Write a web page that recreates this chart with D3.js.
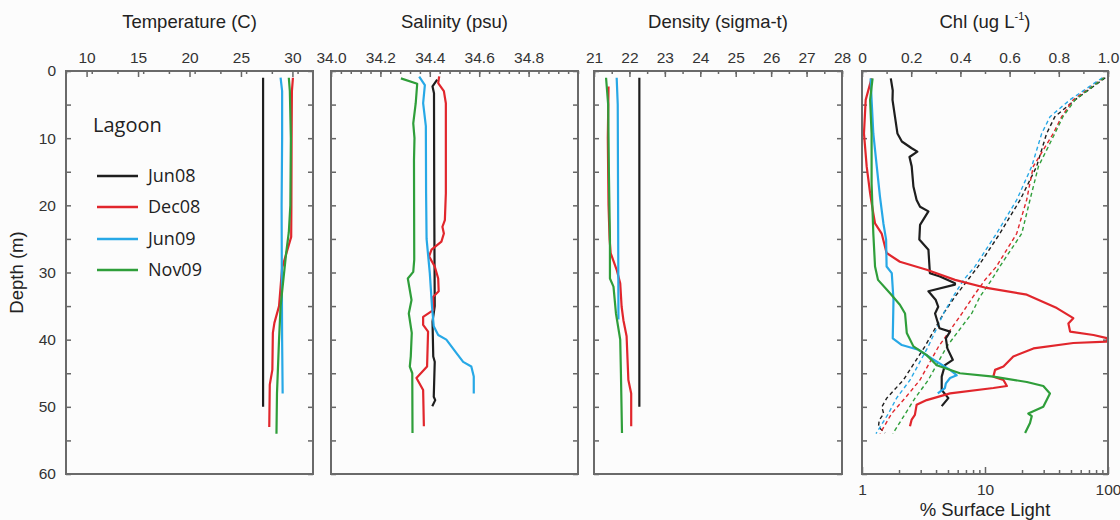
<!DOCTYPE html>
<html lang="en">
<head>
<meta charset="UTF-8">
<title>Lagoon profiles</title>
<script src="https://d3js.org/d3.v7.min.js"></script>
<style>
  body { margin: 0; background: #fcfcfc; }
  svg { display: block; }
  .tick text { font-family: "Liberation Sans", Arial, sans-serif; font-size: 15.5px; fill: #333; }
  .tick line { stroke: #666; stroke-width: 1.5; }
  .ptitle { font-family: "Liberation Sans", Arial, sans-serif; font-size: 18.5px; fill: #222; text-anchor: middle; }
  .legend text { font-family: "Open Sans", sans-serif; fill: #222; }
</style>
</head>
<body>
<svg id="chart" width="1120" height="520"></svg>
<script>
// ---- data: [depth (m), value] ----
const seasons = ["Jun08", "Dec08", "Jun09", "Nov09"];
const seasonColors = ["#1e1e1e", "#e1262c", "#27a8e6", "#2f9e3a"];

const tempJun08 = [[1,27.15],[50,27.15]];
const tempDec08 = [[1,30.05],[3,29.95],[10,29.92],[20,29.9],[24.7,29.88],[29.3,29.0],[35,28.7],[37.5,28.25],[39,28.1],[44.5,28.05],[46.7,27.8],[53,27.75]];
const tempJun09 = [[1,28.85],[3,29.0],[10,29.0],[20,28.95],[30,28.97],[40,29.0],[48,29.05]];
const tempNov09 = [[1,29.65],[3,29.75],[10,29.85],[20,29.8],[24,29.65],[27,29.4],[35,28.85],[40,28.7],[48,28.5],[54,28.45]];

const salJun08 = [[1.3,34.43],[2.3,34.411],[3.3,34.417],[20,34.418],[35,34.42],[37.3,34.411],[42.5,34.414],[43.3,34.42],[48.5,34.416],[49,34.422],[49.9,34.41]];
const salDec08 = [[0.8,34.438],[1.8,34.434],[3,34.457],[4.8,34.465],[18.2,34.465],[22.2,34.461],[23.2,34.451],[24.2,34.457],[25.4,34.447],[26.6,34.407],[27.6,34.397],[29.1,34.42],[30.9,34.434],[32.8,34.436],[33.6,34.414],[35.6,34.414],[36.6,34.373],[37.8,34.373],[38.8,34.393],[44,34.389],[45.7,34.346],[47.5,34.373],[52.9,34.376]];
const salJun09 = [[0.85,34.357],[2.1,34.38],[4.8,34.373],[8.2,34.384],[18.2,34.385],[25,34.387],[30.1,34.40],[35.1,34.409],[38,34.416],[39.3,34.434],[40,34.467],[42,34.508],[43.3,34.535],[44,34.568],[45.5,34.578],[48,34.578]];
const salNov09 = [[1.1,34.283],[1.9,34.349],[4.8,34.343],[7.8,34.333],[10,34.338],[13.3,34.336],[28.1,34.337],[29.9,34.333],[30.9,34.311],[34.1,34.326],[36.1,34.315],[39,34.327],[42.5,34.323],[44,34.319],[45,34.329],[53.9,34.33]];

const denJun08 = [[1,22.28],[50,22.28]];
const denDec08 = [[2.3,21.41],[10,21.39],[20,21.41],[25,21.44],[27.1,21.47],[29.6,21.64],[31.6,21.74],[35.1,21.78],[37.1,21.83],[39.5,21.92],[46,21.97],[48,22.05],[52.9,22.05]];
const denJun09 = [[1,21.64],[5,21.67],[20,21.68],[37,21.69]];
const denNov09 = [[1,21.34],[5,21.4],[15,21.42],[25.1,21.45],[30.9,21.45],[32.1,21.55],[36.1,21.62],[40,21.74],[45,21.76],[53.9,21.79]];

const chlJun08 = [[1.1,0.117],[2.9,0.125],[4.3,0.124],[6.8,0.134],[9.3,0.144],[10.5,0.162],[11.5,0.202],[12,0.225],[12.8,0.193],[14.2,0.202],[17.2,0.209],[19.2,0.222],[20.2,0.236],[20.9,0.27],[22.9,0.236],[25.1,0.233],[26.6,0.27],[30.1,0.276],[30.6,0.317],[31.6,0.378],[31.8,0.378],[32.8,0.27],[34.1,0.3],[35.1,0.31],[36.1,0.297],[38.3,0.315],[38.8,0.358],[39.8,0.341],[41.3,0.347],[43,0.369],[43.8,0.337],[45.5,0.324],[47.5,0.324],[48.7,0.351],[49.9,0.324]];
const chlDec08 = [[1.1,0.039],[4.3,0.015],[9.3,0.008],[14.2,0.019],[18.2,0.033],[21.2,0.046],[22.7,0.053],[24.2,0.08],[27.1,0.1],[28.4,0.154],[29.6,0.263],[31.1,0.378],[32.3,0.507],[33.3,0.67],[35.3,0.792],[36.8,0.859],[37.6,0.839],[38.8,0.846],[39.3,0.941],[39.8,1.0],[40.3,0.995],[40.5,0.859],[41.3,0.697],[42.5,0.615],[44,0.575],[44.5,0.541],[45.5,0.534],[46,0.575],[46.9,0.589],[47.2,0.534],[48,0.358],[49,0.263],[49.7,0.222],[51.2,0.215],[51.9,0.202],[52.9,0.195]];
const chlJun09 = [[1.1,0.035],[4.3,0.039],[9.3,0.046],[14.2,0.06],[18.7,0.073],[22.7,0.087],[25.1,0.098],[29.1,0.1],[30.1,0.121],[34.1,0.128],[39.8,0.125],[40.8,0.162],[41.5,0.229],[42.8,0.283],[44.5,0.358],[45.3,0.385],[45.7,0.358],[46.5,0.341],[47.2,0.337],[48,0.308]];
const chlNov09 = [[1.1,0.043],[4.3,0.033],[9.3,0.039],[16.7,0.039],[24.2,0.046],[29.1,0.053],[31.1,0.065],[33.1,0.114],[34.8,0.154],[36.1,0.175],[39,0.182],[41,0.209],[42.3,0.263],[43.8,0.304],[45,0.398],[45.5,0.534],[46.3,0.67],[46.9,0.737],[48,0.764],[50,0.737],[51,0.676],[51.4,0.69],[52.4,0.683],[53.9,0.663]];

// % surface light (dashed, log scale on the bottom axis)
const lightJun08 = [[1,95],[4.3,54],[6.8,37],[9.3,31.7],[14.2,26.3],[19.2,19.3],[24.2,13.2],[29.1,8.8],[33.6,5.7],[36.1,4.6],[41,3.25],[46,2.17],[48.7,1.59],[50,1.45],[51,1.5],[52,1.38],[53,1.36],[53.9,1.54]];
const lightDec08 = [[1,92],[4.3,52],[6.8,42],[9.3,35.9],[14.2,24.7],[19.2,21.8],[24.2,18.1],[29.1,12.4],[31.1,10],[33.6,8.0],[36.1,6.5],[41,4.2],[46,2.96],[48.7,2.24],[51,1.74],[54,1.4]];
const lightJun09 = [[1,90],[4.3,49],[6.8,33.8],[9.3,28.9],[14.2,24],[19.2,18.1],[24.2,12.4],[29.1,8.3],[31.1,6.7],[33.6,5.5],[36.1,4.6],[41,3.46],[46,2.46],[48.7,1.91],[51,1.64],[54,1.3]];
const lightNov09 = [[1,93],[4.3,54],[6.8,43],[9.3,37],[14.2,27.2],[19.2,23.2],[24.2,19.9],[29.1,13.2],[31.1,11.3],[33.6,9.1],[36.1,7.8],[41,4.9],[46,3.46],[48.7,2.7],[54,1.78]];

// tick labels
const depthTicks = [0, 10, 20, 30, 40, 50, 60];
const tempTicks = [10, 15, 20, 25, 30];
const salTicks = [34.0, 34.2, 34.4, 34.6, 34.8];
const denTicks = [21, 22, 23, 24, 25, 26, 27, 28];
const chlTicks = [0, 0.2, 0.4, 0.6, 0.8, 1.0];
const lightTicks = [1, 10, 100];

// ---- layout ----
const svg = d3.select("#chart");
const plotTop = 71, plotBottom = 474;
const y = d3.scaleLinear().domain([0, 60]).range([plotTop, plotBottom]);

const panels = [
  { title: "Temperature (C)", left: 66, right: 313, domain: [8, 32], ticks: tempTicks, minorStep: 2.5, fmt: d3.format("d"),
    series: [tempJun08, tempDec08, tempJun09, tempNov09] },
  { title: "Salinity (psu)", left: 331, right: 578, domain: [34, 35], ticks: salTicks, minorStep: 0.04, fmt: d3.format(".1f"),
    series: [salJun08, salDec08, salJun09, salNov09] },
  { title: "Density (sigma-t)", left: 594, right: 842, domain: [21, 28], ticks: denTicks, minorStep: 0.5, fmt: d3.format("d"),
    series: [denJun08, denDec08, denJun09, denNov09] },
  { title: "Chl", left: 862, right: 1108, domain: [0, 1], ticks: chlTicks, minorStep: 0.1, fmt: d => d === 0 ? "0" : d3.format(".1f")(d),
    series: [chlJun08, chlDec08, chlJun09, chlNov09] }
];

panels.forEach((p, pi) => {
  const x = d3.scaleLinear().domain(p.domain).range([p.left, p.right]);
  const g = svg.append("g");

  const minor = d3.range(p.domain[0], p.domain[1] + 1e-9, p.minorStep);
  g.append("g").attr("transform", `translate(0,${plotTop})`)
    .call(d3.axisTop(x).tickValues(minor).tickSize(-3).tickFormat(""))
    .call(a => a.select(".domain").remove());
  g.append("g").attr("transform", `translate(0,${plotTop})`)
    .call(d3.axisTop(x).tickValues(p.ticks).tickSize(-6).tickPadding(8).tickFormat(p.fmt))
    .call(a => a.select(".domain").remove());

  // depth ticks on both sides
  const dTicks = d3.range(0, 61, 5);
  g.append("g").attr("transform", `translate(${p.left},0)`)
    .call(d3.axisLeft(y).tickValues(dTicks).tickSize(-5).tickPadding(10)
      .tickFormat(d => (pi === 0 && depthTicks.includes(d)) ? d : ""))
    .call(a => a.select(".domain").remove());
  g.append("g").attr("transform", `translate(${p.right},0)`)
    .call(d3.axisRight(y).tickValues(dTicks).tickSize(-5).tickFormat(""))
    .call(a => a.select(".domain").remove());

  if (pi === 3) {
    const xl = d3.scaleLog().domain([1, 100]).range([p.left, p.right]);
    const logMinor = [2,3,4,5,6,7,8,9,20,30,40,50,60,70,80,90];
    g.append("g").attr("transform", `translate(0,${plotBottom})`)
      .call(d3.axisBottom(xl).tickValues(logMinor).tickSize(-4).tickFormat(""))
      .call(a => a.select(".domain").remove());
    g.append("g").attr("transform", `translate(0,${plotBottom})`)
      .call(d3.axisBottom(xl).tickValues(lightTicks).tickSize(-7).tickPadding(10).tickFormat(d3.format("d")))
      .call(a => a.select(".domain").remove());
    g.append("text").attr("class", "ptitle").attr("x", (p.left + p.right) / 2).attr("y", 516)
      .text("% Surface Light");

    const lightLine = d3.line().x(d => xl(d[1])).y(d => y(d[0]));
    [lightJun08, lightDec08, lightJun09, lightNov09].forEach((s, i) => {
      g.append("path").datum(s).attr("d", lightLine)
        .attr("fill", "none").attr("stroke", seasonColors[i])
        .attr("stroke-width", 1.4).attr("stroke-dasharray", "4,3");
    });
  }

  const line = d3.line().x(d => x(d[1])).y(d => y(d[0]));
  p.series.forEach((s, i) => {
    g.append("path").datum(s).attr("d", line)
      .attr("fill", "none").attr("stroke", seasonColors[i])
      .attr("stroke-width", 2.2).attr("stroke-linejoin", "round");
  });

  g.append("rect").attr("x", p.left).attr("y", plotTop)
    .attr("width", p.right - p.left).attr("height", plotBottom - plotTop)
    .attr("fill", "none").attr("stroke", "#6a6a6a").attr("stroke-width", 2);

  const t = g.append("text").attr("class", "ptitle").attr("x", (p.left + p.right) / 2).attr("y", 28);
  if (pi === 3) {
    t.append("tspan").text("Chl (ug L");
    t.append("tspan").attr("font-size", "11px").attr("dy", -8).text("-1");
    t.append("tspan").attr("dy", 8).text(")");
  } else {
    t.text(p.title);
  }
});

// y-axis title
svg.append("text").attr("class", "ptitle")
  .attr("transform", `translate(23,${(plotTop + plotBottom) / 2}) rotate(-90)`)
  .text("Depth (m)");

// legend
const legend = svg.append("g").attr("class", "legend");
legend.append("text").attr("x", 93).attr("y", 132).attr("font-size", "20px").text("Lagoon");
seasons.forEach((s, i) => {
  const ly = [176, 207, 239, 270][i];
  legend.append("line").attr("x1", 97).attr("x2", 138).attr("y1", ly).attr("y2", ly)
    .attr("stroke", seasonColors[i]).attr("stroke-width", 2.4);
  legend.append("text").attr("x", 148).attr("y", ly).attr("dy", "0.35em")
    .attr("font-size", "18px").text(s);
});
</script>
</body>
</html>
